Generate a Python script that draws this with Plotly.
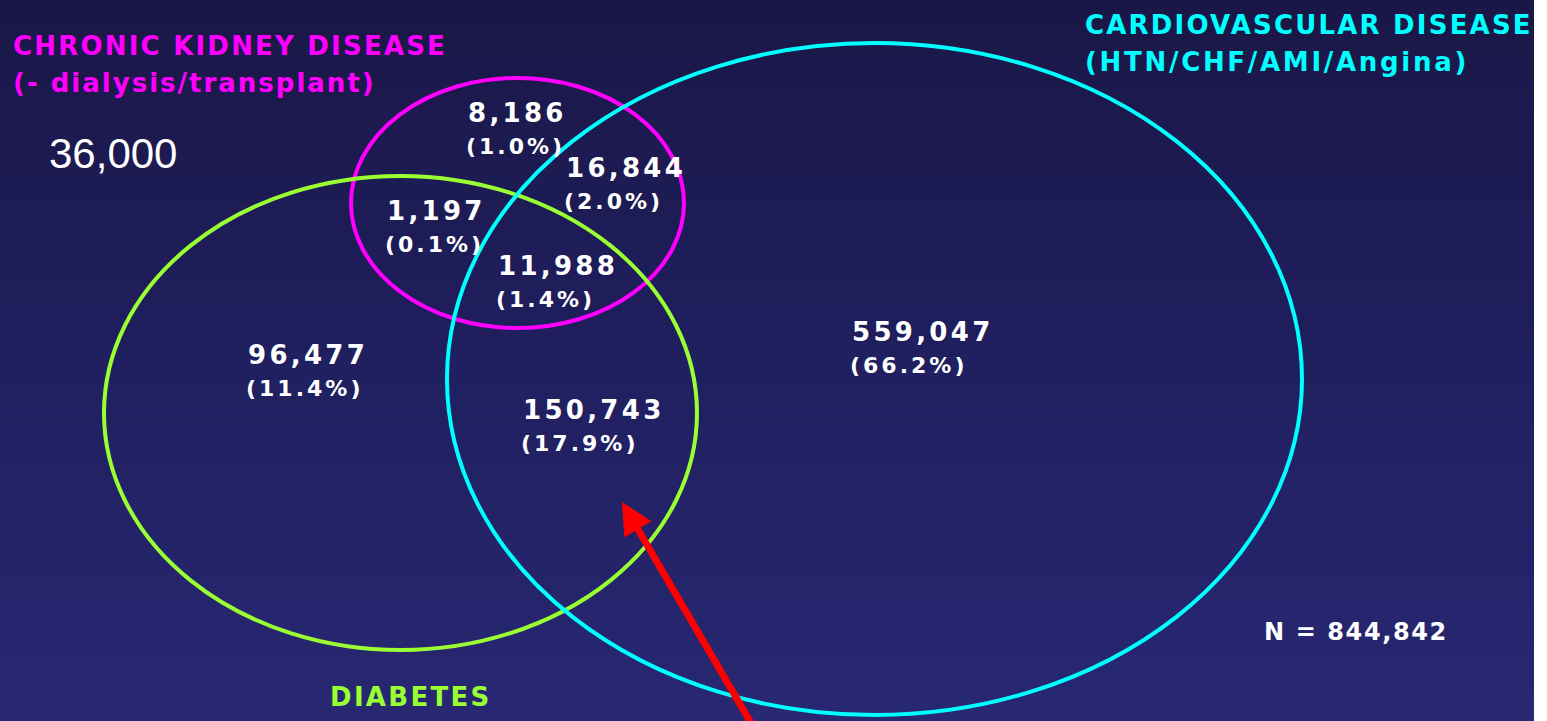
import plotly.graph_objects as go
import numpy as np

# ---- data ----
region_names = ["CKD only", "CKD+CVD", "CKD+DM", "CKD+DM+CVD", "DM only", "DM+CVD", "CVD only"]
region_counts = [8186, 16844, 1197, 11988, 96477, 150743, 559047]
region_pcts = [1.0, 2.0, 0.1, 1.4, 11.4, 17.9, 66.2]
total_n = 844842
ckd_extra = "36,000"

# label anchor positions (pixel space of the slide)
label_x = [466, 564, 385, 496, 246, 521, 850]
label_y = [113, 168, 211, 266, 355, 410, 332]

# sets: name, colour, centre x, centre y, radius x, radius y
set_names = ["CKD", "DIABETES", "CVD"]
set_colors = ["#ff00ff", "#99ff33", "#00ffff"]
set_cx = [517.5, 400.5, 874.5]
set_cy = [203, 413, 379]
set_rx = [166.5, 296.5, 427.5]
set_ry = [125, 237, 336]

W, H = 1547, 721
BG_W = 1534
FONT = "DejaVu Sans"

fig = go.Figure()

# gradient background
ys = np.arange(0, 730, 10)
z = np.array([[y, y] for y in ys])
fig.add_trace(go.Heatmap(
    x=[BG_W / 4, 3 * BG_W / 4], y=ys, z=z,
    colorscale=[[0, "#1a1747"], [0.5, "#201f5f"], [1, "#282873"]],
    showscale=False, hoverinfo="skip", zsmooth="best"))

shapes = []
for c, cx, cy, rx, ry in zip(set_colors, set_cx, set_cy, set_rx, set_ry):
    shapes.append(dict(type="circle", xref="x", yref="y",
                       x0=cx - rx, x1=cx + rx, y0=cy - ry, y1=cy + ry,
                       line=dict(color=c, width=4), fillcolor="rgba(0,0,0,0)"))

ann = []
def sp(t, s):
    return f'<span style="letter-spacing:{s}px">{t}</span>'

for cnt, pct, x, y in zip(region_counts, region_pcts, label_x, label_y):
    ann.append(dict(x=x, y=y, xref="x", yref="y", text="<b>" + sp(f"{cnt:,}", 3.3) + "</b>",
                    showarrow=False, xanchor="left", yanchor="middle",
                    font=dict(family=FONT, size=26, color="white")))
    ann.append(dict(x=x - 2, y=y + 33, xref="x", yref="y", text="<b>" + sp(f"({pct:.1f}%)", 3) + "</b>",
                    showarrow=False, xanchor="left", yanchor="middle",
                    font=dict(family=FONT, size=22, color="white")))

titles = [
    ("CHRONIC KIDNEY DISEASE", 11, 46, set_colors[0], 26, 2.2),
    ("(- dialysis/transplant)", 11, 83, set_colors[0], 26, 2.0),
    ("CARDIOVASCULAR DISEASE", 1083, 25, set_colors[2], 26, 2.2),
    ("(HTN/CHF/AMI/Angina)", 1083, 62, set_colors[2], 26, 2.7),
    ("DIABETES", 328, 697, set_colors[1], 26, 2.3),
    (f"N = {total_n:,}", 1262, 632, "white", 24, 1.6),
]
for t, x, y, c, s, ls in titles:
    ann.append(dict(x=x, y=y, xref="x", yref="y", text="<b>" + sp(t, ls) + "</b>",
                    showarrow=False, xanchor="left", yanchor="middle",
                    font=dict(family=FONT, size=s, color=c)))

ann.append(dict(x=47, y=153, xref="x", yref="y", text=ckd_extra, showarrow=False,
                xanchor="left", yanchor="middle",
                font=dict(family="Liberation Sans", size=42, color="white")))

# red arrow pointing at the DM+CVD region
ann.append(dict(x=622, y=502, ax=758, ay=735, xref="x", yref="y", axref="x", ayref="y",
                text="", showarrow=True, arrowhead=2, arrowsize=0.9, arrowwidth=7,
                arrowcolor="#ff0000"))

fig.update_layout(
    width=W, height=H, margin=dict(l=0, r=0, t=0, b=0),
    paper_bgcolor="white", plot_bgcolor="white",
    xaxis=dict(range=[0, W], visible=False, fixedrange=True),
    yaxis=dict(range=[H, 0], visible=False, fixedrange=True),
    shapes=shapes, annotations=ann, showlegend=False,
)
fig.write_html("out.html")
